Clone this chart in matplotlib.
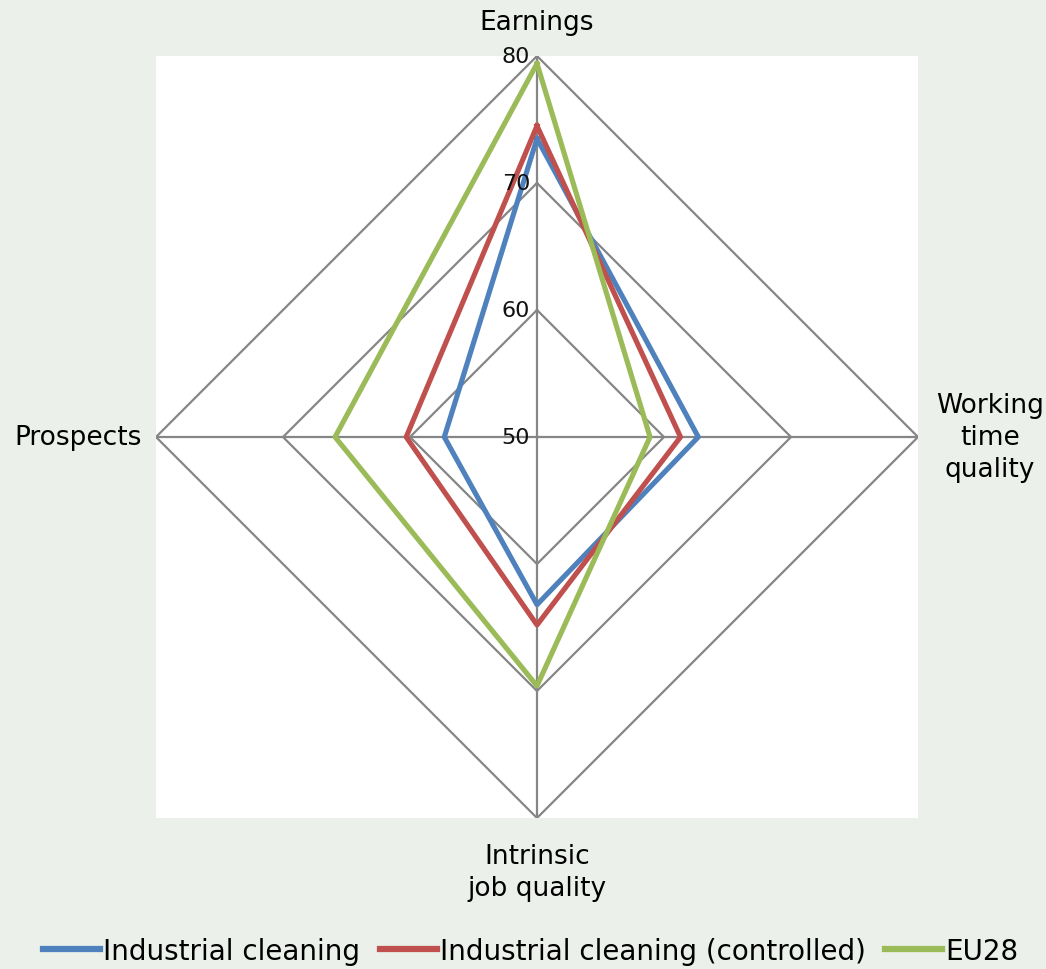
import numpy as np
import matplotlib.pyplot as plt

# ----- data -----
categories = ['Earnings', 'Working\ntime\nquality', 'Intrinsic\njob quality', 'Prospects']
series_names = ['Industrial cleaning', 'Industrial cleaning (controlled)', 'EU28']
industrial = [73.5, 62.7, 63.2, 57.3]
controlled = [74.5, 61.3, 64.8, 60.3]
eu28 = [79.4, 58.9, 69.6, 65.9]
ring_levels = [60, 70, 80]
tick_labels = ['50', '60', '70', '80']
tick_values = [50, 60, 70, 80]

colors = ['#4F81BD', '#C0504D', '#9BBB59']
grid_color = '#868686'
bg = '#EBF1EA'

plt.rcParams['font.family'] = ['DejaVu Sans']

W, H = 1046, 970
fig = plt.figure(figsize=(W / 100, H / 100), dpi=100)
fig.patch.set_facecolor(bg)

# white plot area behind the radar
cx, cy, R = 537, 438, 381
back = fig.add_axes([(cx - R) / W, (H - cy - R) / H, 2 * R / W, 2 * R / H])
back.set_facecolor('white')
back.set_xticks([]); back.set_yticks([])
for s in back.spines.values():
    s.set_visible(False)

ax = fig.add_axes([(cx - R) / W, (H - cy - R) / H, 2 * R / W, 2 * R / H],
                  projection='polar')
ax.patch.set_alpha(0)
ax.set_theta_zero_location('N')
ax.set_theta_direction(-1)
ax.set_ylim(50, 80)
ax.grid(False)
ax.set_xticks([]); ax.set_yticks([])
ax.spines['polar'].set_visible(False)

n = len(categories)
theta = np.arange(n) * 2 * np.pi / n
theta_closed = np.append(theta, theta[0])

# polygon rings and spokes
for lvl in ring_levels:
    ax.plot(theta_closed, [lvl] * (n + 1), color=grid_color, lw=1.6, zorder=1)
for t in theta:
    ax.plot([t, t], [50, 80], color=grid_color, lw=1.6, zorder=1)

for vals, name, c in zip([industrial, controlled, eu28], series_names, colors):
    ax.plot(theta_closed, vals + vals[:1], color=c, lw=3.7, label=name,
            zorder=3, solid_joinstyle='round')

# value labels on the Earnings spoke
for v, lab in zip(tick_values, tick_labels):
    ax.annotate(lab, xy=(0, v), xytext=(-7, 0), textcoords='offset pixels',
                ha='right', va='center', fontsize=16, color='#111111', zorder=4)

# category labels
label_fs = 19
ax.annotate(categories[0], xy=(theta[0], 80), xytext=(0, 34), textcoords='offset pixels',
            ha='center', va='center', fontsize=label_fs, annotation_clip=False)
ax.annotate(categories[1], xy=(theta[1], 80), xytext=(72, 0), textcoords='offset pixels',
            ha='center', va='center', fontsize=label_fs, multialignment='center',
            linespacing=1.32, annotation_clip=False)
ax.annotate(categories[2], xy=(theta[2], 80), xytext=(0, -54), textcoords='offset pixels',
            ha='center', va='center', fontsize=label_fs, multialignment='center',
            linespacing=1.32, annotation_clip=False)
ax.annotate(categories[3], xy=(theta[3], 80), xytext=(-14, 0), textcoords='offset pixels',
            ha='right', va='center', fontsize=label_fs, annotation_clip=False)

leg = fig.legend(loc='center', bbox_to_anchor=(0.5 + 8 / W, (H - 952) / H), ncol=3,
                 frameon=False, fontsize=20, handlelength=2.05, handletextpad=0.12,
                 columnspacing=0.7)
for line in leg.get_lines():
    line.set_linewidth(4.5)

fig.savefig('out.png', dpi=100, facecolor=bg)
